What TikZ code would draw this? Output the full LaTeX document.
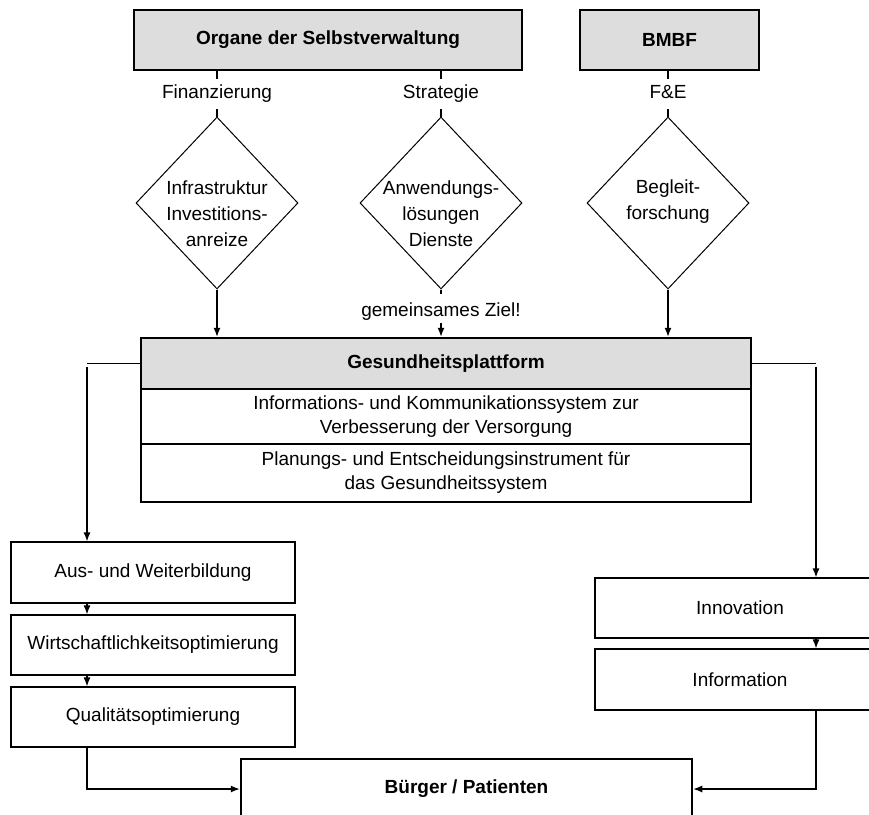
\documentclass[tikz,border=0pt]{standalone}
\usepackage{fontspec}
\setmainfont{Liberation Sans}
\usetikzlibrary{shapes.geometric,arrows.meta}
\definecolor{hdrgray}{RGB}{221,221,221}
\begin{document}
\begin{tikzpicture}[x=1pt,y=-1pt,
  font=\fontsize{19}{24}\selectfont,
  txt/.style={inner sep=0pt, align=center},
  hbox/.style={draw, line width=2.5pt, fill=hdrgray, inner sep=0pt,
    font=\fontsize{19}{24}\selectfont\bfseries},
  tbox/.style={draw, line width=1.2pt, inner sep=0pt, align=center, fill=white},
  dia/.style={draw, line width=1pt, diamond, minimum width=162pt, minimum height=172pt, inner sep=0pt},
  ln/.style={line width=1.2pt},
  arr/.style={line width=1.2pt, -{Latex[length=9pt,width=7pt]}},
  dtxt/.style={inner sep=0pt, align=center, font=\fontsize{19}{26}\selectfont}
]
\clip (0,0) rectangle (869,814);
\fill[white] (0,0) rectangle (869,814);

% top boxes
\node[hbox, minimum width=388pt, minimum height=60pt] (org) at (328,40) {Organe der Selbstverwaltung};
\node[hbox, minimum width=179pt, minimum height=60pt] (bmbf) at (669.5,40) {BMBF};

% labels
\node[txt, anchor=base] (fin) at (217,98) {Finanzierung};
\node[txt, anchor=base] (str) at (441,98) {Strategie};
\node[txt, anchor=base] (fe) at (668,98) {F\&E};

% diamonds
\node[dia] (d1) at (217,203) {};
\node[dia] (d2) at (441,203) {};
\node[dia] (d3) at (668,203) {};
\node[dtxt] (t1) at (217,214) {Infrastruktur\\Investitions-\\anreize};
\node[dtxt] (t2) at (441,214) {Anwendungs-\\lösungen\\Dienste};
\node[dtxt] (t3) at (668,202) {Begleit-\\forschung};

% stubs
\draw[ln] (d1.north |- org.south) -- ++(0,8);
\draw[ln] (d1.north) -- ++(0,-8);
\draw[ln] (d2.north |- org.south) -- ++(0,8);
\draw[ln] (d2.north) -- ++(0,-8);
\draw[ln] (d3.north |- bmbf.south) -- ++(0,8);
\draw[ln] (d3.north) -- ++(0,-8);

\node[txt, anchor=base] (ziel) at (441,316) {gemeinsames Ziel!};

% Gesundheitsplattform
\node[tbox, minimum width=610pt, minimum height=55pt] (r1) at (446,416.5)
  {Informations- und Kommunikationssystem zur\\Verbesserung der Versorgung};
\node[tbox, minimum width=610pt, minimum height=58pt] (r2) at (446,473)
  {Planungs- und Entscheidungsinstrument für\\das Gesundheitssystem};
\node[hbox, minimum width=610pt, minimum height=51pt] (gp) at (446,363.5) {Gesundheitsplattform};

\draw[arr] (d1.south) -- (d1.south |- gp.north);
\draw[arr] (d3.south) -- (d3.south |- gp.north);
\draw[ln] (d2.south) -- ++(0,4);
\draw[arr] ([yshift=-3pt]ziel.south) -- (d2.south |- gp.north);

% left column
\node[tbox, minimum width=284pt, minimum height=61pt] (aus) at (153,572.5) {Aus- und Weiterbildung};
\node[tbox, minimum width=284pt, minimum height=60pt] (wir) at (153,645) {Wirtschaftlichkeitsoptimierung};
\node[tbox, minimum width=284pt, minimum height=60pt] (qual) at (153,717) {Qualitätsoptimierung};

% right column
\node[tbox, minimum width=290pt, minimum height=60pt] (inno) at (740,608) {Innovation};
\node[tbox, minimum width=290pt, minimum height=61pt] (infm) at (740,679.5) {Information};

% Buerger
\node[hbox, fill=white, minimum width=451pt, minimum height=60pt] (bur) at (466.5,789) {Bürger / Patienten};

\coordinate (L) at (gp.west -| 87,0);
\coordinate (R) at (gp.east -| 816,0);
\draw[ln] (gp.west) -- (L);
\draw[arr] ([yshift=-3pt]L) -- (L |- aus.north);
\draw[arr] (aus.south -| L) -- (wir.north -| L);
\draw[arr] (wir.south -| L) -- (qual.north -| L);
\draw[arr] (qual.south -| L) |- (bur.west);

\draw[ln] (gp.east) -- (R);
\draw[arr] ([yshift=-3pt]R) -- (R |- inno.north);
\draw[arr] (inno.south -| R) -- (infm.north -| R);
\draw[arr] (infm.south -| R) |- (bur.east);
\end{tikzpicture}
\end{document}
